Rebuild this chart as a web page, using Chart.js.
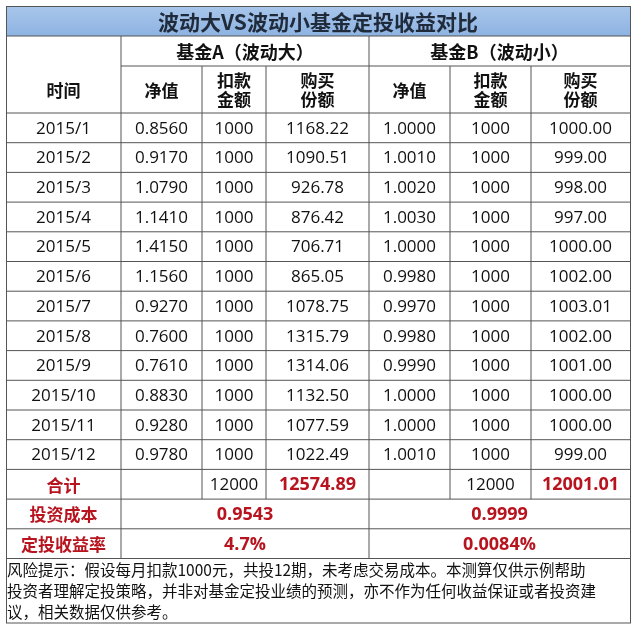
<!DOCTYPE html>
<html><head><meta charset="utf-8">
<script src="https://cdn.jsdelivr.net/npm/chart.js@4.4.0/dist/chart.umd.min.js"></script>
<style>html,body{margin:0;padding:0;background:#fff}</style>
</head><body>
<canvas id="c" width="640" height="625"></canvas>
<script>
const title = "波动大VS波动小基金定投收益对比";
const groupA = "基金A（波动大）";
const groupB = "基金B（波动小）";
const colHeaders = ["时间","净值","扣款\n金额","购买\n份额","净值","扣款\n金额","购买\n份额"];
const months = ["2015/1","2015/2","2015/3","2015/4","2015/5","2015/6","2015/7","2015/8","2015/9","2015/10","2015/11","2015/12"];
const navA = ["0.8560","0.9170","1.0790","1.1410","1.4150","1.1560","0.9270","0.7600","0.7610","0.8830","0.9280","0.9780"];
const payA = ["1000","1000","1000","1000","1000","1000","1000","1000","1000","1000","1000","1000"];
const sharesA = ["1168.22","1090.51","926.78","876.42","706.71","865.05","1078.75","1315.79","1314.06","1132.50","1077.59","1022.49"];
const navB = ["1.0000","1.0010","1.0020","1.0030","1.0000","0.9980","0.9970","0.9980","0.9990","1.0000","1.0000","1.0010"];
const payB = ["1000","1000","1000","1000","1000","1000","1000","1000","1000","1000","1000","1000"];
const sharesB = ["1000.00","999.00","998.00","997.00","1000.00","1002.00","1003.01","1002.00","1001.00","1000.00","1000.00","999.00"];
const totalLabel = "合计", totalPayA = "12000", totalSharesA = "12574.89", totalPayB = "12000", totalSharesB = "12001.01";
const costLabel = "投资成本", costA = "0.9543", costB = "0.9999";
const rateLabel = "定投收益率", rateA = "4.7%", rateB = "0.0084%";
const note = ["风险提示：假设每月扣款1000元，共投12期，未考虑交易成本。本测算仅供示例帮助","投资者理解定投策略，并非对基金定投业绩的预测，亦不作为任何收益保证或者投资建","议，相关数据仅供参考。"];

const RED = "#b8141f", LINE = "#555", F = '"Noto Sans CJK SC", sans-serif', N = '"Open Sans", sans-serif';
const colX = [6,121,202,266,369,450,531,630];
const titleY = [6,36], h1Y = [36,66], h2Y = [66,113];
const rowH = 29.7, dataTop = 113;

const tablePlugin = {
  id: 'table',
  afterDraw(chart) {
    const ctx = chart.ctx;
    ctx.save();
    const rectText = (x0,x1,y0,y1,txt,font,color)=>{
      ctx.font = font; ctx.fillStyle = color; ctx.textAlign='center'; ctx.textBaseline='middle';
      const lines = txt.split("\n"); const lh = 19;
      const cy = (y0+y1)/2 - (lines.length-1)*lh/2;
      lines.forEach((l,i)=>ctx.fillText(l,(x0+x1)/2,cy+i*lh+1));
    };
    const hline=(x0,x1,y)=>{ctx.beginPath();ctx.moveTo(x0,y);ctx.lineTo(x1,y);ctx.stroke();};
    const vline=(x,y0,y1)=>{ctx.beginPath();ctx.moveTo(x,y0);ctx.lineTo(x,y1);ctx.stroke();};
    const g = ctx.createLinearGradient(0,titleY[0],0,titleY[1]);
    g.addColorStop(0,"#a9c6ea"); g.addColorStop(1,"#8db3e2");
    ctx.fillStyle = g; ctx.fillRect(colX[0],titleY[0],colX[7]-colX[0],titleY[1]-titleY[0]);
    rectText(colX[0],colX[7],titleY[0],titleY[1],title,'bold 21px '+F,"#1f2a3a");
    rectText(colX[1],colX[4],h1Y[0],h1Y[1],groupA,'bold 18px '+F,"#111");
    rectText(colX[4],colX[7],h1Y[0],h1Y[1],groupB,'bold 18px '+F,"#111");
    colHeaders.forEach((h,i)=>rectText(colX[i],colX[i+1],h2Y[0],h2Y[1],h,'bold 17px '+F,"#111"));
    const cols=[months,navA,payA,sharesA,navB,payB,sharesB];
    months.forEach((m,r)=>{
      const y0=dataTop+r*rowH;
      cols.forEach((c,i)=>rectText(colX[i],colX[i+1],y0,y0+rowH,c[r],'17px '+N,"#111"));
    });
    const tY = dataTop+12*rowH;
    const totals=[totalLabel,"",totalPayA,totalSharesA,"",totalPayB,totalSharesB];
    totals.forEach((t,i)=>{
      const red = i===3||i===6;
      rectText(colX[i],colX[i+1],tY,tY+rowH,t,i===0?'bold 17px '+F:(red?'bold 18px '+N:'17px '+N),(i===0||red)?RED:"#111");
    });
    const cY = tY+rowH, rY = cY+rowH, nY = rY+rowH;
    rectText(colX[0],colX[1],cY,cY+rowH,costLabel,'bold 17px '+F,RED);
    rectText(colX[1],colX[4],cY,cY+rowH,costA,'bold 18px '+N,RED);
    rectText(colX[4],colX[7],cY,cY+rowH,costB,'bold 18px '+N,RED);
    rectText(colX[0],colX[1],rY,rY+rowH,rateLabel,'bold 17px '+F,RED);
    rectText(colX[1],colX[4],rY,rY+rowH,rateA,'bold 18px '+N,RED);
    rectText(colX[4],colX[7],rY,rY+rowH,rateB,'bold 18px '+N,RED);
    ctx.font='15.5px '+F; ctx.fillStyle="#111"; ctx.textAlign='left'; ctx.textBaseline='middle';
    note.forEach((l,i)=>ctx.fillText(l,colX[0]+1,nY+12+i*21));
    const bottom = nY+64;
    ctx.strokeStyle=LINE; ctx.lineWidth=1;
    ctx.strokeRect(colX[0]+0.5,titleY[0]+0.5,colX[7]-colX[0],bottom-titleY[0]);
    hline(colX[0],colX[7],titleY[1]);
    hline(colX[1],colX[7],h1Y[1]);
    for(let r=0;r<=15;r++) hline(colX[0],colX[7],dataTop+r*rowH);
    vline(colX[1],titleY[1],nY);
    vline(colX[4],titleY[1],nY);
    [2,3,5,6].forEach(i=>vline(colX[i],h1Y[1],tY+rowH));
    ctx.restore();
  }
};

new Chart(document.getElementById('c'),{
  type:'bar',
  data:{labels:[],datasets:[]},
  options:{responsive:false,animation:false,
    plugins:{legend:{display:false},tooltip:{enabled:false}},
    scales:{x:{display:false},y:{display:false}}},
  plugins:[tablePlugin]
});
</script>
</body></html>
